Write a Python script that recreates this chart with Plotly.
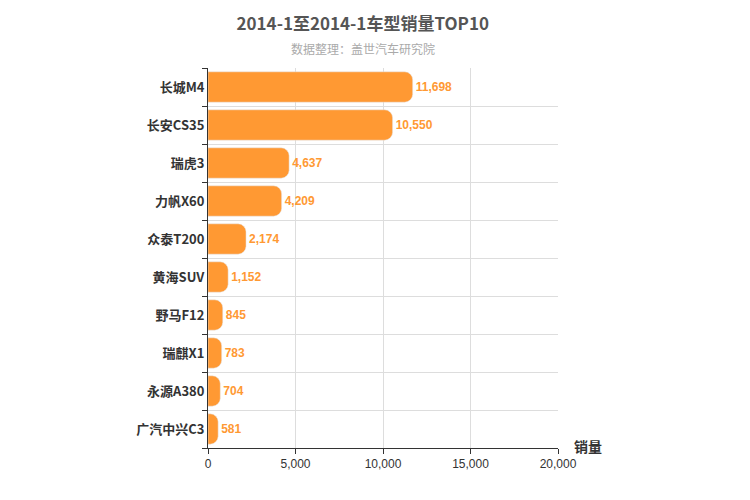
import plotly.graph_objects as go

models = ["长城M4","长安CS35","瑞虎3","力帆X60","众泰T200","黄海SUV","野马F12","瑞麒X1","永源A380","广汽中兴C3"]
sales = [11698,10550,4637,4209,2174,1152,845,783,704,581]

fig = go.Figure(go.Bar(
    x=sales, y=models, orientation="h",
    marker=dict(color="#FF9933"),
    width=0.8,
    text=[f"<b>{v:,}</b>" for v in sales], textposition="outside",
    textfont=dict(color="#FF9933", size=12, family="Arial"),
    cliponaxis=False,
))
fig.update_layout(
    width=750, height=500, plot_bgcolor="white", paper_bgcolor="white",
    margin=dict(l=200, r=200, t=60, b=60, autoexpand=False),
    barcornerradius=8,
    showlegend=False,
    title=dict(text="<b>2014-1至2014-1车型销量TOP10</b>", x=0.473, y=0.968, xanchor="center", yanchor="middle",
               font=dict(size=17, color="#555", family="Noto Sans CJK SC")),
    annotations=[
        dict(text="数据整理：盖世汽车研究院", x=(355-200)/350, y=(440-41)/380, xref="paper", yref="paper",
             xanchor="center", yanchor="middle", showarrow=False,
             font=dict(size=12, color="#aaa", family="Noto Sans CJK SC")),
        dict(text="<b>销量</b>", x=(580-200)/350, y=(440-438)/380, xref="paper", yref="paper",
             xanchor="center", yanchor="middle", showarrow=False,
             font=dict(size=14, color="#333", family="Noto Sans CJK SC")),
    ],
    font=dict(family="Noto Sans CJK SC"),
)
fig.update_xaxes(range=[0,20000], dtick=5000, tickformat=",", showgrid=True, gridcolor="#ddd",
                 showline=True, linecolor="#333", ticks="outside", tickcolor="#333", automargin=False,
                 tickfont=dict(size=12, color="#333", family="Arial"), zeroline=False, mirror=False)
fig.update_yaxes(autorange="reversed", showgrid=True, gridcolor="#ddd", showline=True, linecolor="#333",
                 tickson="boundaries", ticks="outside", tickcolor="#333", automargin=False,
                 tickfont=dict(size=13, color="#333", family="Arial Black, Noto Sans CJK SC"))
fig.update_yaxes(ticktext=[f"<b>{m}</b>" for m in models], tickvals=models)
fig.write_html("out.html")
